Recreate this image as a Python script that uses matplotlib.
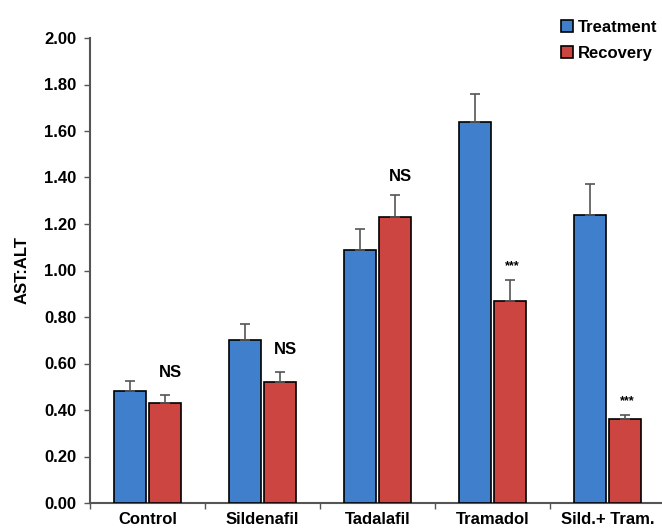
import matplotlib
matplotlib.use("Agg")
import matplotlib.pyplot as plt
import numpy as np

plt.rcParams['font.family'] = ['Liberation Sans', 'DejaVu Sans']

# data
groups = ["Control", "Sildenafil", "Tadalafil", "Tramadol", "Sild.+ Tram."]
treatment = [0.48, 0.70, 1.09, 1.64, 1.24]
treatment_err = [0.045, 0.07, 0.09, 0.12, 0.13]
recovery = [0.43, 0.52, 1.23, 0.87, 0.36]
recovery_err = [0.035, 0.045, 0.095, 0.09, 0.02]
marks = ["NS", "NS", "NS", "***", "***"]

blue = "#3F7FCC"
red = "#CC4540"

fig = plt.figure(figsize=(6.62, 5.29), dpi=100)
ax = fig.add_axes([90 / 662, 1 - 503 / 529, 575 / 662, 465 / 529])

x = np.arange(len(groups))
w = 0.285
off = 0.153
err_kw = dict(ecolor="#555555", elinewidth=1.2, capsize=3.5, capthick=1.2)
ax.bar(x - off, treatment, w, color=blue, edgecolor="black", linewidth=1.2,
       yerr=[np.zeros(len(x)), treatment_err], error_kw=err_kw, label="Treatment", zorder=3)
ax.bar(x + off, recovery, w, color=red, edgecolor="black", linewidth=1.2,
       yerr=[np.zeros(len(x)), recovery_err], error_kw=err_kw, label="Recovery", zorder=3)

# significance marks
for i, m in enumerate(marks):
    if m == "NS":
        top = max(treatment[i] + treatment_err[i], recovery[i] + recovery_err[i])
        if i == 0:
            ypos = 0.56
        elif i == 1:
            ypos = 0.66
        else:
            ypos = top + 0.08
        ax.text(x[i] + off + 0.05, ypos, m, ha="center", va="center",
                fontsize=12, fontweight="bold")
    else:
        ypos = recovery[i] + recovery_err[i] + 0.06
        ax.text(x[i] + off + 0.02, ypos, m, ha="center", va="center",
                fontsize=9, fontweight="bold")

ax.set_xlim(-0.5, 4.5)
ax.set_ylim(0, 2.0)
ax.set_yticks(np.arange(0, 2.01, 0.2))
ax.set_yticklabels([f"{v:.2f}" for v in np.arange(0, 2.01, 0.2)],
                   fontsize=12, fontweight="bold")
ax.set_xticks(x)
ax.set_xticklabels(groups, fontsize=12, fontweight="bold")
ax.set_xticks(np.arange(-0.5, 4.6, 1), minor=True)
ax.tick_params(axis="x", which="major", length=0, pad=6.5)
ax.tick_params(axis="x", which="minor", length=4, direction="out", color="#555555", width=1.0)
ax.tick_params(axis="y", length=4, direction="out", color="#555555", width=1.0, pad=6)
ax.set_ylabel("AST:ALT", fontsize=12, fontweight="bold", labelpad=10)

for s in ["top", "right"]:
    ax.spines[s].set_visible(False)
for s in ["left", "bottom"]:
    ax.spines[s].set_color("#555555")
    ax.spines[s].set_linewidth(1.5)

leg = fig.legend(loc="upper left", bbox_to_anchor=(546 / 662, 1 - 5 / 529), frameon=False,
                 prop={"size": 12, "weight": "bold"}, handlelength=0.7, handleheight=0.7,
                 handletextpad=0.3, labelspacing=0.65)

fig.savefig("out.png", dpi=100)
